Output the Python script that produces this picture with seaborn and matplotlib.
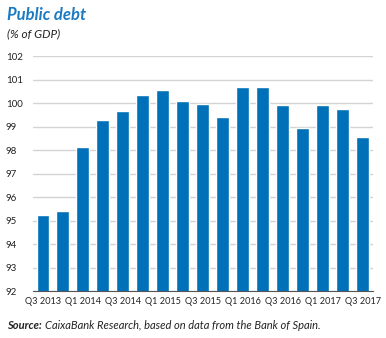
import matplotlib
matplotlib.use("Agg")
import matplotlib.pyplot as plt
import seaborn as sns
import pandas as pd
import numpy as np

quarters = ["Q3 2013", "Q4 2013", "Q1 2014", "Q2 2014", "Q3 2014", "Q4 2014",
            "Q1 2015", "Q2 2015", "Q3 2015", "Q4 2015", "Q1 2016", "Q2 2016",
            "Q3 2016", "Q4 2016", "Q1 2017", "Q2 2017", "Q3 2017"]
debt = [95.25, 95.4, 98.15, 99.3, 99.65, 100.35, 100.55, 100.1, 99.95, 99.4,
        100.7, 100.7, 99.9, 98.95, 99.9, 99.75, 98.55]
yticks = [92, 93, 94, 95, 96, 97, 98, 99, 100, 101, 102]

sns.set_theme(style="white")
plt.rcParams['font.family'] = ['Lato', 'DejaVu Sans']

df = pd.DataFrame({"quarter": quarters, "debt": debt})

fig = plt.figure(figsize=(3.86, 3.38), dpi=100)
ax = fig.add_axes([0.0855, 0.139, 0.8805, 0.695])

sns.barplot(data=df, x="quarter", y="debt", color="#0070b8", saturation=1,
            width=0.65, ax=ax, zorder=3)
ax.set_ylim(92, 102)
ax.set_xlim(-0.5, len(quarters) - 0.5)
ax.set_yticks(yticks)
ax.set_yticklabels([str(v) for v in yticks], fontsize=7, color="#222222")
ax.yaxis.grid(True, color="#d3d3d3", linewidth=1.0, zorder=0)
ax.set_axisbelow(True)
ax.set_xlabel("")
ax.set_ylabel("")

ax.set_xticks(range(0, len(quarters), 2))
ax.set_xticklabels(quarters[::2], fontsize=6.6, color="#222222")
ax.set_xticks(np.arange(-0.5, len(quarters), 1), minor=True)
ax.tick_params(axis="x", which="major", length=0, pad=4)
ax.tick_params(axis="x", which="minor", direction="in", length=3, width=0.8, color="#555555")
ax.tick_params(axis="y", length=0, pad=19.5)
for lbl in ax.get_yticklabels():
    lbl.set_horizontalalignment("left")

for s in ["top", "right", "left"]:
    ax.spines[s].set_visible(False)
ax.spines["bottom"].set_color("#555555")
ax.spines["bottom"].set_linewidth(0.8)
ax.spines["bottom"].set_zorder(4)

fig.text(0.018, 0.955, "Public debt", fontsize=12, fontweight="bold", fontstyle="italic",
         color="#1a7ac4", va="center", ha="left")
fig.text(0.018, 0.900, "(% of GDP)", fontsize=8.5, fontstyle="italic",
         color="#222222", va="center", ha="left")
src = fig.text(0.018, 0.036, "Source:", fontsize=8, fontweight="bold", fontstyle="italic",
               color="#222222", va="center", ha="left")
fig.canvas.draw()
bb = src.get_window_extent()
fig.text((bb.x1 + 3) / fig.bbox.width, 0.036,
         "CaixaBank Research, based on data from the Bank of Spain.", fontsize=8,
         fontstyle="italic", color="#222222", va="center", ha="left")

fig.savefig("out.png", dpi=100)
